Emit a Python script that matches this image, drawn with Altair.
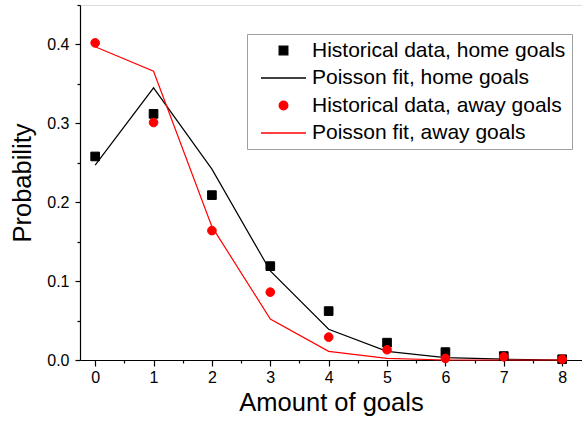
import altair as alt
import pandas as pd

goals = [0, 1, 2, 3, 4, 5, 6, 7, 8]
home_hist = [0.258, 0.312, 0.209, 0.119, 0.062, 0.022, 0.010, 0.005, 0.001]
home_fit = [0.247, 0.345, 0.242, 0.113, 0.039, 0.011, 0.003, 0.001, 0.000]
away_hist = [0.402, 0.301, 0.164, 0.086, 0.029, 0.013, 0.002, 0.004, 0.001]
away_fit = [0.397, 0.366, 0.169, 0.052, 0.011, 0.002, 0.000, 0.000, 0.000]

labels = ["Historical data, home goals", "Poisson fit, home goals",
          "Historical data, away goals", "Poisson fit, away goals"]
x_major = [0, 1, 2, 3, 4, 5, 6, 7, 8]
x_minor = [0.5, 1.5, 2.5, 3.5, 4.5, 5.5, 6.5, 7.5]
y_major = [0.0, 0.1, 0.2, 0.3, 0.4]
y_minor = [0.05, 0.15, 0.25, 0.35, 0.45]

colors = ["#000000", "#000000", "#ff0000", "#ff0000"]
LINE = "M-5.2,0H5.2"
shapes = ["square", LINE, "circle", LINE]

pts = pd.DataFrame({
    "goals": goals * 2,
    "prob": home_hist + away_hist,
    "series": [labels[0]] * len(goals) + [labels[2]] * len(goals),
})
fit = pd.DataFrame({
    "goals": goals * 2,
    "prob": home_fit + away_fit,
    "series": [labels[1]] * len(goals) + [labels[3]] * len(goals),
})

FONT = "Liberation Sans"
xscale = alt.Scale(domain=[-0.26, 8.34], nice=False, zero=False)
yscale = alt.Scale(domain=[0, 0.45], nice=False, zero=False)
col_scale = alt.Scale(domain=labels, range=colors)
shape_scale = alt.Scale(domain=labels, range=shapes)

legend = alt.Legend(
    title=None, orient="none", legendX=167, legendY=29,
    padding=6, strokeColor="#a0a0a0", fillColor="white",
    symbolOffset=20, labelOffset=18, rowPadding=5.5,
    labelFontSize=21, labelFont=FONT, labelColor="black", labelLimit=400,
    symbolSize=75, symbolStrokeWidth=1.3,
)

x_axis = alt.Axis(values=x_major, format="d", tickSize=6, tickWidth=1.2,
                  domainWidth=1.2, domainColor="black", tickColor="black",
                  labelFontSize=16, labelFont=FONT, labelColor="black",
                  labelPadding=3, title="Amount of goals", titleFont=FONT,
                  titleFontSize=25.5, titleFontWeight="normal", titleColor="black",
                  titlePadding=5, grid=False, orient="bottom")
y_axis = alt.Axis(values=y_major, format=".1f", tickSize=5, tickWidth=1.2,
                  domainWidth=1.2, domainColor="black", tickColor="black",
                  labelFontSize=16, labelFont=FONT, labelColor="black",
                  labelPadding=6, title="Probability", titleFont=FONT,
                  titleFontSize=25.5, titleFontWeight="normal", titleColor="black",
                  titlePadding=11, grid=False, orient="left")
x_minor_axis = alt.Axis(values=x_minor, tickSize=3, tickWidth=1.2, tickColor="black",
                        labels=False, domain=False, title=None, grid=False, orient="bottom")
y_minor_axis = alt.Axis(values=y_minor, tickSize=3, tickWidth=1.2, tickColor="black",
                        labels=False, domain=False, title=None, grid=False, orient="left")

lines = alt.Chart(fit).mark_line(strokeWidth=1.2).encode(
    x=alt.X("goals:Q", scale=xscale, axis=x_axis),
    y=alt.Y("prob:Q", scale=yscale, axis=y_axis),
    stroke=alt.Stroke("series:N", scale=col_scale, legend=legend),
)

points = alt.Chart(pts).mark_point(filled=True, size=75, opacity=1, strokeWidth=1).encode(
    x=alt.X("goals:Q", scale=xscale, axis=None),
    y=alt.Y("prob:Q", scale=yscale, axis=None),
    fill=alt.Fill("series:N", scale=col_scale, legend=legend),
    stroke=alt.Stroke("series:N", scale=col_scale, legend=legend),
    shape=alt.Shape("series:N", scale=shape_scale, legend=legend),
)

minor = alt.Chart(pts).mark_point(opacity=0).encode(
    x=alt.X("goals:Q", scale=xscale, axis=x_minor_axis),
    y=alt.Y("prob:Q", scale=yscale, axis=y_minor_axis),
)

chart = alt.layer(lines, points, minor).resolve_axis(
    x="independent", y="independent"
).properties(
    width=502, height=355,
    autosize=alt.AutoSizeParams(type="none"),
    padding={"left": 80, "top": 5, "right": 0, "bottom": 61},
).configure_view(stroke=None).configure(background="white")

chart.save("out.html", embed_options={"renderer": "svg", "actions": False})
